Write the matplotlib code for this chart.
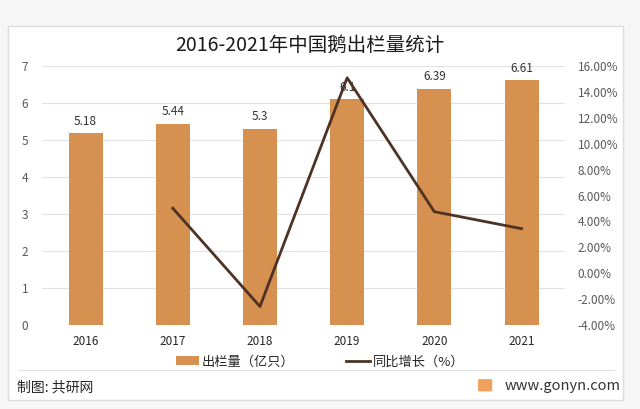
import matplotlib
matplotlib.use("Agg")
import matplotlib.pyplot as plt
from matplotlib.patches import Rectangle, FancyBboxPatch
from matplotlib.lines import Line2D
import numpy as np

plt.rcParams['font.family'] = ['Noto Sans CJK SC', 'DejaVu Sans']

# data
years = ["2016", "2017", "2018", "2019", "2020", "2021"]
output = [5.18, 5.44, 5.3, 6.1, 6.39, 6.61]           # 出栏量（亿只）
growth = [np.nan, 5.02, -2.57, 15.09, 4.75, 3.44]     # 同比增长（%）
left_ticks = [0, 1, 2, 3, 4, 5, 6, 7]
right_ticks = [-4, -2, 0, 2, 4, 6, 8, 10, 12, 14, 16]

bar_color = "#D6904F"
line_color = "#4E3324"
tick_color = "#595959"

fig = plt.figure(figsize=(6.4, 4.09), dpi=100)
fig.patch.set_facecolor("#F6F6F6")

# white card with a faint border, kept behind the axes
card = Rectangle((0.0125, 0.022), 0.961, 0.914, transform=fig.transFigure,
                 facecolor="white", edgecolor="#DDDDDD", linewidth=1.0, zorder=-10)
fig.patches.append(card)

ax = fig.add_axes([0.0656, 0.2054, 0.8174, 0.6332])
ax.set_facecolor("none")
x = np.arange(len(years))
bars = ax.bar(x, output, width=0.39, color=bar_color, zorder=2)
for xi, v in zip(x, output):
    ax.text(xi, v + 0.15, f"{v:g}", ha="center", va="bottom", fontsize=8.5,
            color="#333333")
ax.set_xlim(-0.5, len(years) - 0.5)
ax.set_ylim(0, 7)
ax.set_yticks(left_ticks)
ax.set_xticks(x)
ax.set_xticklabels(years, fontsize=8.5, color="#262626", fontweight="medium")
ax.tick_params(axis="y", labelsize=8.5, labelcolor=tick_color, length=0, pad=10)
ax.tick_params(axis="x", length=0, pad=7)
ax.grid(axis="y", color="#E2E2E2", linewidth=0.8, zorder=0)
ax.set_axisbelow(True)
for s in ax.spines.values():
    s.set_visible(False)

ax2 = ax.twinx()
ax2.plot(x, growth, color=line_color, linewidth=2.0, zorder=3)
ax2.set_ylim(-4, 16)
ax2.set_yticks(right_ticks)
ax2.set_yticklabels([f"{t:.2f}%" for t in right_ticks])
ax2.tick_params(axis="y", labelsize=8.5, labelcolor=tick_color, length=0, pad=9)
for s in ax2.spines.values():
    s.set_visible(False)

fig.text(0.484, 0.89, "2016-2021年中国鹅出栏量统计", ha="center", va="center",
         fontsize=14, color="#1A1A1A")

handles = [Rectangle((0, 0), 1, 1, facecolor=bar_color),
           Line2D([0], [0], color=line_color, linewidth=2.0)]
fig.legend(handles, ["出栏量（亿只）", "同比增长（%）"], loc="center",
           bbox_to_anchor=(0.5, 0.115), ncol=2, frameon=False, fontsize=9.5,
           handlelength=1.8, handletextpad=0.2, columnspacing=3.9,
           labelcolor="#262626")

# separator and footer
fig.add_artist(Line2D([0.028, 0.96], [0.095, 0.095], transform=fig.transFigure,
                      color="#E3E3E3", linewidth=0.8))
fig.text(0.027, 0.052, "制图: 共研网", ha="left", va="center", fontsize=10,
         color="#262626")
fig.add_artist(FancyBboxPatch((0.749, 0.045), 0.018, 0.026,
                              boxstyle="round,pad=0.002", transform=fig.transFigure,
                              facecolor="#F0A25C", edgecolor="none"))
fig.text(0.788, 0.057, "www.gonyn.com", ha="left", va="center", fontsize=10.5,
         color="#333333")

fig.savefig("out.png", dpi=100, facecolor=fig.get_facecolor())
